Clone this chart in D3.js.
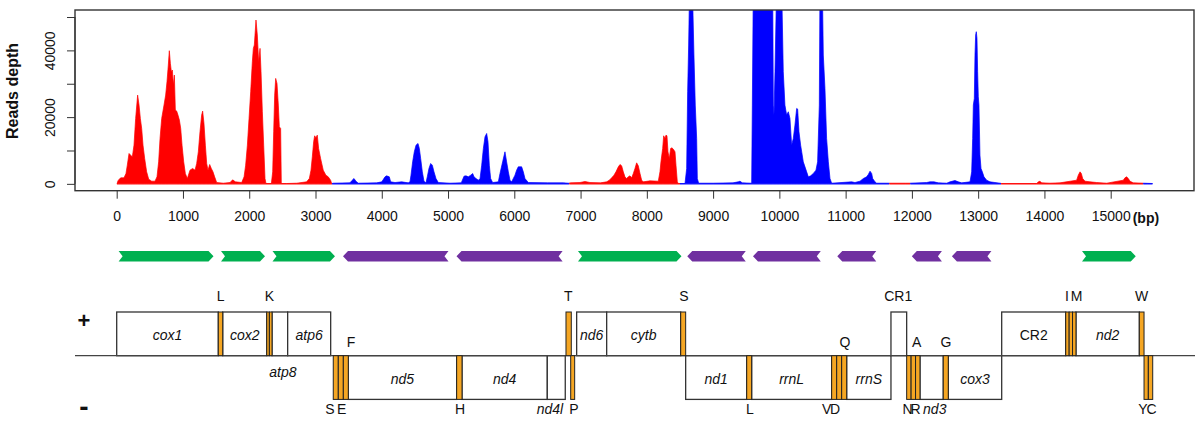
<!DOCTYPE html>
<html><head><meta charset="utf-8">
<script src="https://cdn.jsdelivr.net/npm/d3@7"></script>
<style>
body{margin:0;background:#fff}
svg{display:block}
text{font-family:"Liberation Sans",Arial,Helvetica,sans-serif;fill:#111}
</style>
</head><body><svg id="c" width="1200" height="421"></svg>
<script>
// ---------- DATA ----------
// reads depth profile (position in bp, depth)
const depthBp = [0,25,60,110,140,160,186,211,236,261,286,316,337,357,377,397,422,452,483,528,578,608,633,654,679,714,739,759,779,794,810,825,840,855,870,885,905,925,946,966,986,1011,1036,1066,1106,1146,1182,1207,1232,1257,1282,1297,1317,1338,1358,1378,1403,1428,1453,1478,1509,1609,1710,1750,1791,1886,1922,1946,1972,1997,2022,2047,2062,2077,2102,2122,2142,2163,2178,2198,2218,2238,2253,2334,2354,2369,2384,2399,2419,2439,2454,2474,2484,2565,2716,2866,2907,2932,2952,2972,2987,3007,3027,3047,3077,3117,3157,3192,3228,3244,
3270,3521,3550,3581,3610,3646,3923,4000,4049,4074,4114,4134,4200,4300,4400,4426,4441,4466,4491,4517,4547,4567,4587,4612,4637,4667,4687,4712,4738,4763,4788,4818,4853,5030,5200,5241,5271,5306,5342,5372,5392,5422,5458,5483,5508,5533,5558,5583,5603,5623,5643,5673,5759,5784,5824,5859,5884,5910,5935,5960,6010,6035,6060,6111,6136,6161,6211,6500,6740,6815,
6850,6991,7066,7142,7300,7394,7434,7469,7504,7534,7570,7595,7620,7645,7670,7695,7720,7746,7771,7796,7821,7846,7871,7897,7922,7947,8047,8173,8198,8213,8239,8254,8274,8289,8304,8319,8339,8359,8379,8400,8425,8440,8460,8475,
8576,8601,8616,8631,8646,8666,8686,8711,8731,8752,8762,8782,9000,9300,9380,9406,9440,9570,9582,9592,9607,9700,9800,9899,9909,9919,9934,9959,10000,10034,10059,10084,10110,10135,10160,10185,10210,10235,10261,10276,10296,10321,10361,10412,10437,10472,10512,10552,10577,10603,10613,10630,10648,10663,10688,10713,10739,10764,10789,11091,11141,11217,11267,11317,11342,11368,11393,11408,11443,11468,11660,
11700,11900,11971,12223,12273,12333,12399,12525,12575,12650,12700,12751,12877,12902,12917,12927,12942,12952,12962,12972,12982,12992,13002,13012,13027,13043,13063,13088,13128,13178,13254,13329,
13354,13883,13908,13933,13958,14084,14235,14486,14511,14537,14557,14577,14612,14687,14788,14939,15190,15215,15240,15266,15291,15341,15492,15560,15633];
const depthValue = [0,1100,1800,1800,3100,5600,9100,8600,8100,11600,19600,26600,23600,19600,16600,11600,7600,3600,1400,800,800,2100,6600,13600,19600,23600,26600,30600,35600,39900,36100,33600,34100,29600,32600,22100,21800,20600,19100,16600,11600,6600,3100,1600,4100,4600,4100,6100,9600,15600,20600,21800,18100,11600,6100,4100,5800,4600,3600,2100,400,200,400,1200,600,400,2100,5600,11600,19600,27600,36600,40600,41600,49100,44600,36600,40600,33600,21600,11600,1600,100,100,3600,15600,26600,31600,30100,23600,17100,16600,100,100,200,600,1600,4100,8100,12600,14400,13800,14600,10600,7600,4100,2600,2100,1100,100,
200,300,1000,1600,800,200,300,600,2100,2400,2100,600,400,600,300,600,2600,6600,9600,11600,12100,10600,7600,3600,800,300,2100,4600,6100,5600,3600,1600,400,200,300,2300,2400,2100,2600,3100,2100,1600,1100,1600,5600,10600,14100,15100,12600,5600,1600,400,600,3100,6600,9600,6600,3600,1100,600,2600,4100,5100,5100,3600,1600,400,300,300,200,
300,400,700,400,300,600,1100,1800,2600,3600,5100,5800,5400,3600,2100,1600,2100,2400,1800,3100,4600,6300,5400,3100,1100,600,900,800,3600,6600,10600,14400,13600,14600,14400,9600,7600,10600,10800,10400,9600,5600,600,100,
100,4600,27600,41600,60000,70000,60000,38600,23600,13600,1600,200,200,300,600,800,300,200,200,23600,60000,80000,80000,60000,23600,20600,33600,60000,75000,60000,33600,23600,20600,21600,19600,11600,13600,17600,22600,22400,15600,11600,6600,3600,2100,2400,3100,4100,6600,23600,60000,70000,60000,38600,28600,13600,6600,1600,200,600,400,800,1600,2100,2800,3800,3100,1600,600,200,200,
200,200,200,400,600,600,300,200,600,1000,600,300,600,3600,13600,23600,25600,38600,44600,45600,43600,33600,26100,23600,8600,4600,3600,2100,1100,600,400,200,
100,100,600,800,300,200,300,1100,2600,3600,3100,1600,800,600,400,200,1100,1800,2100,1600,800,300,200,150,100];
// strand of the reads (coloured segments along the genome)
const strandStart = [0,3250,6830,8500,11660,11975,13345,15490];
const strandEnd   = [3250,6830,8500,11660,11975,13345,15490,15634];
const strandSign  = ["+","-","+","-","+","-","+","-"];

// x and y axis ticks
const xTicks = [0,1000,2000,3000,4000,5000,6000,7000,8000,9000,10000,11000,12000,13000,14000,15000];
const yTicks = [0,10000,20000,30000,40000,50000];
const yTickLabels = ["0","","20000","","40000",""];

// transcript arrows
const arrowStart = [29,1574,2351,3415,5128,6961,8610,9602,10874,11999,12604,14567];
const arrowEnd   = [1461,2238,3294,5007,6729,8523,9493,10625,11462,12453,13200,15378];
const arrowDir   = ["+","+","+","-","-","+","-","-","-","-","-","+"];

// gene map (schematic positions)
const geneName  = ["cox1","L","cox2","K1","K2","atp8","atp6","S","E","F","nd5","H","nd4","nd4l","T","P","nd6","cytb","S","nd1","L","rrnL","V","D","Q","rrnS","CR1","N","R","A","nd3","G","cox3","CR2","I","Q2","M","nd2","W","Y","C"];
const geneStart = [0,1533,1600,2264,2304,2344,2580,3268,3344,3420,3495,5130,5211,6498,6780,6851,6941,7394,8511,8586,9507,9582,10789,10865,10940,11016,11684,11921,11988,12055,12122,12473,12549,13355,14321,14373,14424,14476,15432,15503,15568];
const geneEnd   = [1533,1600,2264,2304,2344,2580,3229,3344,3420,3495,5130,5211,6498,6769,6860,6911,7394,8511,8586,9507,9582,10789,10865,10940,11016,11684,11921,11988,12055,12122,12473,12549,13355,14321,14373,14424,14476,15432,15503,15568,15634];
const geneStrand= ["+","+","+","+","+","+","+","-","-","-","-","-","-","-","+","-","+","+","+","-","-","-","-","-","-","-","+","-","-","-","-","-","-","+","+","+","+","+","+","-","-"];
const geneKind  = ["gene","trna","gene","trna","trna","gene","gene","trna","trna","trna","gene","trna","gene","gene","trna","trna","gene","gene","trna","gene","trna","gene","trna","trna","trna","gene","cr","trna","trna","trna","gene","trna","gene","cr","trna","trna","trna","gene","trna","trna","trna"];
const boxLabels = ["cox1","cox2","atp6","nd5","nd4","nd6","cytb","nd1","rrnL","rrnS","cox3","CR2","nd2"];

// outside labels: text, schematic position, row
const labelText = ["L","K","T","S","CR1","I","M","W","F","Q","A","G","S","E","H","nd4l","P","L","V","D","N","R","nd3","Y","C","atp8"];
const labelBp   = [1569,2303,6815,8561,11794,14340,14486,15467,3536,10990,12072,12514,3219,3395,5180,6538,6901,9557,10714,10839,11935,12055,12345,15487,15618,2509];
const labelRow  = ["top","top","top","top","top","top","top","top","mid","mid","mid","mid","bot","bot","bot","bot","bot","bot","bot","bot","bot","bot","bot","bot","bot","line"];

// ---------- DRAW ----------
const svg = d3.select("#c");
const plot = {left:75, right:1194, top:10, bottom:190.7};
const x = d3.scaleLinear().domain([0,15000]).range([116.7,1110.7]);
const y = d3.scaleLinear().domain([-2050,52100]).range([plot.bottom, plot.top]);
const strandColor = {"+":"#ff0000","-":"#0000ff"};

const defs = svg.append("defs");
defs.append("clipPath").attr("id","plotClip").append("rect")
  .attr("x",plot.left).attr("y",plot.top).attr("width",plot.right-plot.left).attr("height",plot.bottom-plot.top);

const pts = depthBp.map((b,i)=>({bp:b,v:depthValue[i]}));
const area = d3.area().x(d=>x(d.bp)).y0(y(0)).y1(d=>y(d.v));
const gPlot = svg.append("g").attr("clip-path","url(#plotClip)");
strandStart.forEach((s,i)=>{
  const id = "seg"+i;
  defs.append("clipPath").attr("id",id).append("rect")
    .attr("x",x(s)).attr("y",0).attr("width",x(strandEnd[i])-x(s)).attr("height",200);
  const g = gPlot.append("g").attr("clip-path",`url(#${id})`);
  const c = strandColor[strandSign[i]];
  g.append("path").attr("d",area(pts)).attr("fill",c).attr("stroke",c).attr("stroke-width",0.7).attr("stroke-linejoin","round");
  g.append("line").attr("x1",x(s)).attr("x2",x(strandEnd[i])).attr("y1",y(0)).attr("y2",y(0))
    .attr("stroke",c).attr("stroke-opacity",0.6).attr("stroke-width",1.4);
});

// box
svg.append("rect").attr("x",plot.left).attr("y",plot.top).attr("width",plot.right-plot.left).attr("height",plot.bottom-plot.top)
  .attr("fill","none").attr("stroke","#333").attr("stroke-width",1.4);

// x axis
const xa = svg.append("g").attr("transform",`translate(0,${plot.bottom})`)
  .call(d3.axisBottom(x).tickValues(xTicks).tickSize(8).tickPadding(9).tickFormat(d3.format("d")));
xa.select(".domain").remove();
xa.selectAll("line").attr("stroke","#333").attr("stroke-width",1);
xa.selectAll("text").attr("font-size",14).attr("fill","#111").attr("font-family","Liberation Sans, Arial, sans-serif").attr("dy","0.95em");
svg.append("text").attr("x",x(15000)+22).attr("y",222.5).attr("font-size",14).attr("font-weight","bold").text("(bp)");

// y axis
const ya = svg.append("g").attr("transform",`translate(${plot.left},0)`)
  .call(d3.axisLeft(y).tickValues(yTicks).tickSize(8).tickFormat((d,i)=>yTickLabels[i]));
ya.select(".domain").attr("d",`M0,${y(0)}V${y(50000)}`).attr("stroke","#333");
ya.selectAll("line").attr("stroke","#333");
ya.selectAll("text").attr("font-size",14).attr("fill","#111").attr("font-family","Liberation Sans, Arial, sans-serif")
  .attr("x",null).attr("dy",null).attr("text-anchor","middle")
  .attr("transform",d=>`translate(-20,0) rotate(-90)`);
svg.append("text").attr("transform","translate(18,91) rotate(-90)").attr("text-anchor","middle")
  .attr("font-size",16).attr("font-weight","bold").text("Reads depth");

// arrows
const aTop=251, aBot=261.5, aMid=(aTop+aBot)/2, tip=5, notch=4;
arrowStart.forEach((s,i)=>{
  const x0=x(s), x1=x(arrowEnd[i]);
  let p;
  if(arrowDir[i]==="+"){
    p=[[x0,aTop],[x1-tip,aTop],[x1,aMid],[x1-tip,aBot],[x0,aBot],[x0+notch,aMid]];
  } else {
    p=[[x0+tip,aTop],[x1,aTop],[x1-notch,aMid],[x1,aBot],[x0+tip,aBot],[x0,aMid]];
  }
  svg.append("path").attr("d","M"+p.join("L")+"Z").attr("fill",arrowDir[i]==="+"?"#00b050":"#7030a0");
});

// gene map
const gTop=312, gMid=355.7, gBot=399.3;
const gm = svg.append("g");
geneName.forEach((n,i)=>{
  const x0=x(geneStart[i]), x1=x(geneEnd[i]);
  const y0 = geneStrand[i]==="+"?gTop:gMid;
  if(geneKind[i]!=="trna"){
    gm.append("rect").attr("x",x0).attr("y",y0).attr("width",x1-x0).attr("height",gMid-gTop)
      .attr("fill","#fff").attr("stroke","#333").attr("stroke-width",1.3);
  }
});
gm.append("line").attr("x1",75).attr("x2",1195).attr("y1",gMid).attr("y2",gMid).attr("stroke","#444").attr("stroke-width",1.3);
geneName.forEach((n,i)=>{
  if(geneKind[i]!=="trna") return;
  const x0=x(geneStart[i]), x1=x(geneEnd[i]);
  const y0 = geneStrand[i]==="+"?gTop:gMid;
  gm.append("rect").attr("x",x0).attr("y",y0).attr("width",x1-x0).attr("height",gMid-gTop)
    .attr("fill","#f5a623").attr("stroke","#222").attr("stroke-width",1);
});
geneName.forEach((n,i)=>{
  if(!boxLabels.includes(n)) return;
  const cx=(x(geneStart[i])+x(geneEnd[i]))/2;
  gm.append("text").attr("x",cx).attr("y",geneStrand[i]==="+"?340:384).attr("text-anchor","middle")
    .attr("font-size",14).attr("font-style",geneKind[i]==="cr"?"normal":"italic").text(n);
});
const rowY={top:301,mid:347,bot:414,line:377};
labelText.forEach((t,i)=>{
  gm.append("text").attr("x",x(labelBp[i])).attr("y",rowY[labelRow[i]]).attr("text-anchor","middle")
    .attr("font-size",14).attr("font-style",/^(nd|atp)/.test(t)?"italic":"normal").text(t);
});
svg.append("text").attr("x",84).attr("y",328).attr("text-anchor","middle").attr("font-size",22).attr("font-weight","bold").text("+");
svg.append("text").attr("x",84).attr("y",416).attr("text-anchor","middle").attr("font-size",28).attr("font-weight","bold").text("-");
</script>
</body></html>
